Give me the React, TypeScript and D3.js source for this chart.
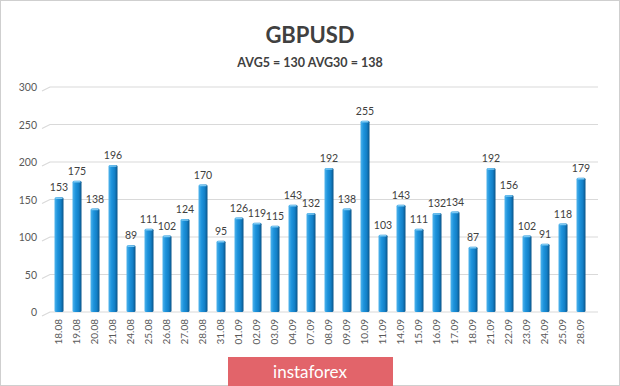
import { useEffect, useRef } from "react"
import * as d3 from "d3"

const dates = [
    "18.08", "19.08", "20.08", "21.08", "24.08", "25.08", "26.08", "27.08", "28.08", "31.08",
    "01.09", "02.09", "03.09", "04.09", "07.09", "08.09", "09.09", "10.09", "11.09", "14.09",
    "15.09", "16.09", "17.09", "18.09", "21.09", "22.09", "23.09", "24.09", "25.09", "28.09",
]
const values = [
    153, 175, 138, 196, 89, 111, 102, 124, 170, 95,
    126, 119, 115, 143, 132, 192, 138, 255, 103, 143,
    111, 132, 134, 87, 192, 156, 102, 91, 118, 179,
]
const yTicks = [0, 50, 100, 150, 200, 250, 300]
const title = "GBPUSD"
const subtitle = "AVG5 = 130 AVG30 = 138"
const brand = "instaforex"

export default function App() {
    const svgRef = useRef<SVGSVGElement>(null)
    const width = 620
    const height = 386

    useEffect(() => {
        const margin = { top: 87, right: 30, bottom: 74, left: 50 }
        const font = "Lato, 'Open Sans', sans-serif"

        const xScale = d3.scaleBand()
            .domain(dates)
            .range([margin.left, width - margin.right])
            .paddingInner(0.5)
            .paddingOuter(0.25)

        const yScale = d3.scaleLinear()
            .domain([0, 300])
            .range([height - margin.bottom, margin.top])

        const svg = d3.select(svgRef.current)
        svg.selectAll("*").remove()

        const defs = svg.append("defs")
        const grad = defs.append("linearGradient")
            .attr("id", "barGrad")
            .attr("x1", "0").attr("x2", "1").attr("y1", "0").attr("y2", "0")
        grad.append("stop").attr("offset", "0%").attr("stop-color", "#4fb3ec")
        grad.append("stop").attr("offset", "35%").attr("stop-color", "#1d93dc")
        grad.append("stop").attr("offset", "70%").attr("stop-color", "#137fc6")
        grad.append("stop").attr("offset", "100%").attr("stop-color", "#0a5488")

        // фон и рамка
        svg.append("rect")
            .attr("x", 0.5).attr("y", 0.5)
            .attr("width", width - 1).attr("height", height - 1)
            .attr("fill", "#ffffff")
            .attr("stroke", "#cfcfcf")

        // сетка
        const grid = svg.append("g")
        grid.selectAll("path")
            .data(yTicks)
            .join("path")
            .attr("d", d => {
                const y = yScale(d)
                return `M${margin.left - 8},${y + 4} L${margin.left},${y} L${width - 22},${y}`
            })
            .attr("fill", "none")
            .attr("stroke", "#d9d9d9")
            .attr("stroke-width", 1.2)

        // подписи оси Y
        svg.append("g")
            .selectAll("text")
            .data(yTicks)
            .join("text")
            .attr("x", 37)
            .attr("y", d => yScale(d) + 4)
            .attr("text-anchor", "end")
            .attr("font-family", font)
            .attr("font-size", 10.5)
            .attr("fill", "#595959")
            .text(d => d)

        // столбцы
        const bw = xScale.bandwidth()
        const bars = svg.append("g")
        bars.selectAll("rect")
            .data(values)
            .join("rect")
            .attr("x", (_, i) => xScale(dates[i])!)
            .attr("y", d => yScale(d))
            .attr("width", bw)
            .attr("height", d => yScale(0) - yScale(d))
            .attr("rx", 1.5)
            .attr("fill", "url(#barGrad)")
        bars.selectAll("line")
            .data(values)
            .join("line")
            .attr("x1", (_, i) => xScale(dates[i])! + 1)
            .attr("x2", (_, i) => xScale(dates[i])! + bw - 1)
            .attr("y1", d => yScale(d) + 1)
            .attr("y2", d => yScale(d) + 1)
            .attr("stroke", "#7cc8f2")
            .attr("stroke-width", 1.5)

        // значения над столбцами
        svg.append("g")
            .selectAll("text")
            .data(values)
            .join("text")
            .attr("x", (_, i) => xScale(dates[i])! + bw / 2)
            .attr("y", d => yScale(d) - 6)
            .attr("text-anchor", "middle")
            .attr("font-family", font)
            .attr("font-size", 10.5)
            .attr("fill", "#404040")
            .text(d => d)

        // подписи дат
        svg.append("g")
            .selectAll("text")
            .data(dates)
            .join("text")
            .attr("transform", d => `translate(${xScale(d)! + bw / 2 + 3},${yScale(0) + 7}) rotate(-90)`)
            .attr("text-anchor", "end")
            .attr("font-family", font)
            .attr("font-size", 10)
            .attr("fill", "#595959")
            .text(d => d)

        // заголовки
        svg.append("text")
            .attr("x", 310).attr("y", 43)
            .attr("text-anchor", "middle")
            .attr("font-family", font)
            .attr("font-weight", "bold")
            .attr("font-size", 22)
            .attr("fill", "#404040")
            .text(title)
        svg.append("text")
            .attr("x", 310).attr("y", 67)
            .attr("text-anchor", "middle")
            .attr("font-family", font)
            .attr("font-weight", "bold")
            .attr("font-size", 12.5)
            .attr("fill", "#404040")
            .text(subtitle)

        // плашка
        svg.append("rect")
            .attr("x", 228).attr("y", 357)
            .attr("width", 165).attr("height", 29)
            .attr("fill", "#e2646a")
        svg.append("text")
            .attr("x", 310).attr("y", 378)
            .attr("text-anchor", "middle")
            .attr("font-family", font)
            .attr("font-size", 17)
            .attr("fill", "#ffffff")
            .text(brand)
    }, [])

    return (
        <svg ref={svgRef} width={width} height={height}
            style={{ position: "absolute", left: 0, top: 0 }} />
    )
}
